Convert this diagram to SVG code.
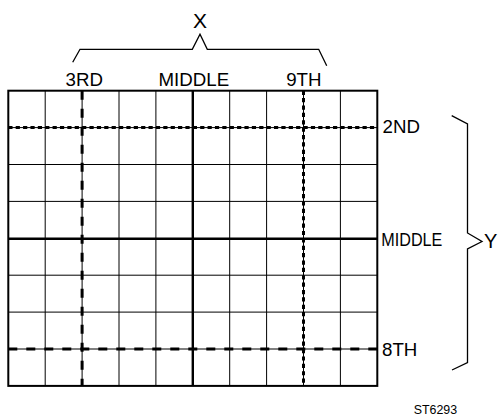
<svg xmlns="http://www.w3.org/2000/svg" width="498" height="415" viewBox="0 0 498 415">
<style>
text{font-family:"Liberation Sans",Arial,sans-serif;fill:#000}
.g{stroke:#000;stroke-width:1;fill:none}
.thick{stroke:#000;stroke-width:2.4;fill:none}
.long{stroke:#000;stroke-width:3;stroke-dasharray:9 9;fill:none}
.short{stroke:#000;stroke-width:3;stroke-dasharray:4.2 3.18;fill:none}
.br{stroke:#000;stroke-width:1.3;fill:none}
</style>
<rect width="498" height="415" fill="#fff"/>
<g id="grid">
<path class="g" d="M45.2,90.7V385.9M82.1,90.7V385.9M119,90.7V385.9M155.9,90.7V385.9M229.7,90.7V385.9M266.6,90.7V385.9M303.5,90.7V385.9M340.4,90.7V385.9M8.3,127.6H377.3M8.3,164.5H377.3M8.3,201.4H377.3M8.3,275.2H377.3M8.3,312.1H377.3M8.3,349H377.3"/>
<path class="thick" d="M192.8,90.7V385.9M8.3,238.8H377.3"/>
<rect x="8.3" y="90.7" width="369" height="295.2" fill="none" stroke="#000" stroke-width="2"/>
</g>
<g id="markers">
<path class="long" d="M82.1,90.7V385.9"/>
<path class="short" d="M303.5,90.7V385.9"/>
<path class="short" d="M8.3,127.6H377.3"/>
<path class="long" d="M8.3,349H377.3"/>
</g>
<g id="x-brace">
<path class="br" d="M72.7,62.3L80,49.3H192.3L200,34.3L207.3,49.3H318.7L326.7,65.7"/>
<text x="200" y="28.3" font-size="21" text-anchor="middle">X</text>
</g>
<g id="y-brace">
<path class="br" d="M451.7,115.7L467.5,124V233L482,241.5L467.5,249V362.7L452,370"/>
<text x="484" y="247.5" font-size="20">Y</text>
</g>
<g id="top-labels" font-size="18.7">
<text x="84.3" y="86" text-anchor="middle" font-size="18.7">3RD</text>
<text x="193.8" y="86" text-anchor="middle" font-size="18.7">MIDDLE</text>
<text x="303.8" y="86" text-anchor="middle" font-size="18.7">9TH</text>
</g>
<g id="right-labels">
<text x="382.5" y="132.5" font-size="18.7">2ND</text>
<text x="381.3" y="246" font-size="18.7" textLength="61" lengthAdjust="spacingAndGlyphs">MIDDLE</text>
<text x="382" y="356" font-size="18.7">8TH</text>
</g>
<text x="413.7" y="413.5" font-size="12.4">ST6293</text>
</svg>
